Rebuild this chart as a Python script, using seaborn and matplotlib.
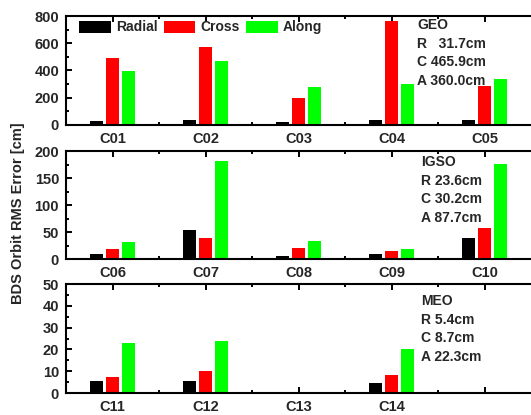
import matplotlib
matplotlib.use("Agg")
import matplotlib.pyplot as plt
import seaborn as sns
import pandas as pd
from matplotlib.ticker import MultipleLocator, FixedLocator

sns.set_theme(style="white")
plt.rcParams['font.family'] = ['Liberation Sans', 'DejaVu Sans']
plt.rcParams['font.weight'] = 'bold'

components = ["Radial", "Cross", "Along"]
colors = ["#000000", "#FF0000", "#00FF00"]

geo_sats = ["C01", "C02", "C03", "C04", "C05"]
geo_radial = [29, 34, 24, 37, 37]
geo_cross = [495, 576, 200, 763, 283]
geo_along = [395, 473, 278, 302, 339]

igso_sats = ["C06", "C07", "C08", "C09", "C10"]
igso_radial = [9, 53, 6, 9, 39]
igso_cross = [19, 39, 20, 14, 57]
igso_along = [31, 182, 33, 18, 176]

meo_sats = ["C11", "C12", "C13", "C14"]
meo_data_sats = ["C11", "C12", "C14"]
meo_radial = [5.5, 5.7, 4.7]
meo_cross = [7.5, 10.1, 8.3]
meo_along = [22.9, 23.9, 20.0]

geo_text = ["GEO", "R   31.7cm", "C 465.9cm", "A 360.0cm"]
igso_text = ["IGSO", "R 23.6cm", "C 30.2cm", "A 87.7cm"]
meo_text = ["MEO", "R 5.4cm", "C 8.7cm", "A 22.3cm"]


def long_df(sats, r, c, a):
    rows = []
    for s, rv, cv, av in zip(sats, r, c, a):
        rows.append((s, "Radial", rv))
        rows.append((s, "Cross", cv))
        rows.append((s, "Along", av))
    return pd.DataFrame(rows, columns=["sat", "comp", "val"])


panels = [
    (long_df(geo_sats, geo_radial, geo_cross, geo_along), geo_sats, 800, 200, 100, geo_text, 417, 9),
    (long_df(igso_sats, igso_radial, igso_cross, igso_along), igso_sats, 200, 50, 25, igso_text, 421, 11),
    (long_df(meo_data_sats, meo_radial, meo_cross, meo_along), meo_sats, 50, 10, 5, meo_text, 421, 17),
]

W, H = 531, 415
fig = plt.figure(figsize=(W / 100, H / 100), dpi=100)
boxes = [(16, 125), (151, 259), (284, 393)]
left_px, right_px = 66, 531

for i, (df, order, ymax, major, minor, txt, tx, ty) in enumerate(panels):
    top, bot = boxes[i]
    ax = fig.add_axes([left_px / W, 1 - bot / H, (right_px - left_px) / W, (bot - top) / H])
    sns.barplot(data=df, x="sat", y="val", hue="comp", order=order, hue_order=components,
                palette=colors, width=0.52, gap=0.15, ax=ax, legend=(i == 0),
                linewidth=0, saturation=1)
    ax.set_xlim(-0.5, 4.5)
    ax.set_ylim(0, ymax)
    labels = list(order) + [""] * (5 - len(order))
    ax.xaxis.set_major_locator(FixedLocator(range(5)))
    ax.set_xticklabels(labels)
    ax.xaxis.set_minor_locator(FixedLocator([0.5, 1.5, 2.5, 3.5]))
    ax.yaxis.set_major_locator(MultipleLocator(major))
    ax.yaxis.set_minor_locator(MultipleLocator(minor))
    ax.set_xlabel("")
    ax.set_ylabel("")
    for side in ["left", "top", "bottom"]:
        ax.spines[side].set_linewidth(1.5)
        ax.spines[side].set_color("black")
        ax.spines[side].set_visible(True)
    ax.spines["right"].set_visible(False)
    ax.tick_params(axis="both", which="major", direction="in", length=4, width=1.4,
                   labelsize=10.5, pad=5, color="black", top=True, bottom=True, left=True, right=False)
    ax.tick_params(axis="both", which="minor", direction="in", length=2.5, width=1.4,
                   color="black", top=True, bottom=True, left=True, right=False)
    for lab in ax.get_xticklabels() + ax.get_yticklabels():
        lab.set_fontweight("bold")
    for k, line in enumerate(txt):
        ax.annotate(line, xy=(0, 1), xycoords="axes fraction",
                    xytext=(tx - left_px, -(ty + k * 18.7)), textcoords="offset pixels",
                    ha="left", va="center", fontsize=10, fontweight="bold")
    if i == 0:
        ax.legend(loc="upper left", bbox_to_anchor=((79 - 66) / 465, 0.96), ncol=3,
                  frameon=False, handlelength=2.3, handleheight=0.95,
                  handletextpad=0.36, columnspacing=0.43, borderpad=0, borderaxespad=0,
                  prop={"weight": "bold", "size": 10})

fig.text(18 / W, 1 - 213 / H, "BDS Orbit RMS Error [cm]", rotation=90, ha="center",
         va="center", fontsize=10.5, fontweight="bold")

fig.savefig("out.png", dpi=100)
